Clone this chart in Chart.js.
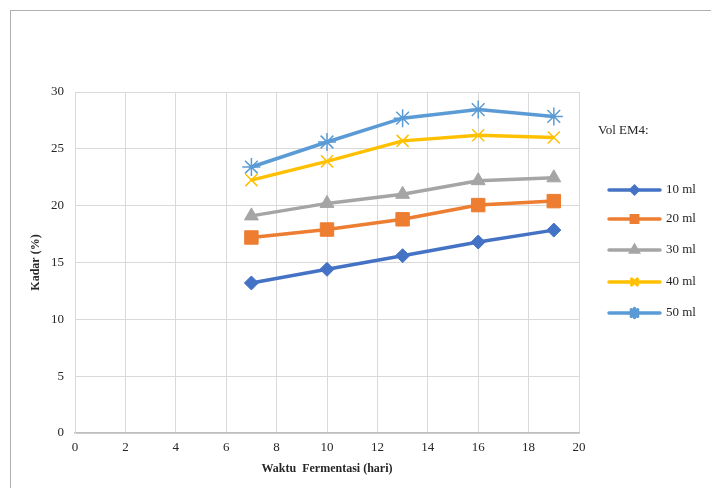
<!DOCTYPE html>
<html><head><meta charset="utf-8">
<script src="https://cdn.jsdelivr.net/npm/chart.js@4"></script>
<style>html,body{margin:0;padding:0;background:#fff}#wrap{width:711px;height:488px;position:relative}</style>
</head><body><div id="wrap"><canvas id="c" width="711" height="488"></canvas></div>
<script>
const days = [7, 10, 13, 16, 19];
const seriesNames = ['10 ml', '20 ml', '30 ml', '40 ml', '50 ml'];
const ml10 = [13.2, 14.4, 15.6, 16.8, 17.85];
const ml20 = [17.2, 17.9, 18.8, 20.05, 20.4];
const ml30 = [19.1, 20.2, 21.0, 22.2, 22.45];
const ml40 = [22.25, 23.9, 25.7, 26.2, 26.0];
const ml50 = [23.4, 25.6, 27.7, 28.45, 27.85];
const xTicks = [0, 2, 4, 6, 8, 10, 12, 14, 16, 18, 20];
const yTicks = [0, 5, 10, 15, 20, 25, 30];

const colors = ['#4472C4', '#ED7D31', '#A5A5A5', '#FFC000', '#5B9BD5'];
const styles = ['rectRot', 'rect', 'triangle', 'crossRot', 'star'];
const radii = [7, 9.5, 8, 8.5, 9];
const legendRadii = [3.5, 4.5, 4, 4, 4.5];
const allData = [ml10, ml20, ml30, ml40, ml50];
const font = 'Liberation Serif';

const datasets = allData.map((vals, i) => ({
  label: seriesNames[i],
  data: days.map((d, j) => ({x: d, y: vals[j]})),
  borderColor: colors[i],
  backgroundColor: colors[i],
  borderWidth: 3.5,
  pointStyle: styles[i],
  pointRadius: radii[i],
  pointBorderWidth: (styles[i] === 'crossRot' || styles[i] === 'star') ? 1.5 : 1,
  pointBorderColor: colors[i],
  pointBackgroundColor: colors[i],
  tension: 0
}));

const frame = {
  id: 'frame',
  beforeDraw(chart) {
    const ctx = chart.ctx;
    ctx.save();
    ctx.fillStyle = '#fff';
    ctx.fillRect(0, 0, chart.width, chart.height);
    ctx.strokeStyle = '#b0b0b0';
    ctx.lineWidth = 1;
    ctx.strokeRect(10.5, 10.5, 900, 700);
    ctx.restore();
  },
  afterDraw(chart) {
    const ctx = chart.ctx;
    ctx.save();
    ctx.font = '13px "' + font + '"';
    ctx.fillStyle = '#262626';
    ctx.textBaseline = 'middle';
    ctx.fillText('Vol EM4:', 598, 131);
    const ys = [190, 219, 250, 282, 313];
    seriesNames.forEach((n, i) => {
      const y = ys[i];
      ctx.strokeStyle = colors[i];
      ctx.lineWidth = 3.5;
      ctx.lineCap = 'round';
      ctx.beginPath(); ctx.moveTo(609, y); ctx.lineTo(660, y); ctx.stroke();
      ctx.fillStyle = colors[i];
      ctx.strokeStyle = colors[i];
      Chart.helpers.drawPoint(ctx, {pointStyle: styles[i], radius: legendRadii[i], rotation: 0,
        borderWidth: (styles[i] === 'crossRot' || styles[i] === 'star') ? 1.2 : 1}, 634.5, y);
      ctx.fillStyle = '#262626';
      ctx.font = '13px "' + font + '"';
      ctx.fillText(n, 666, y);
    });
    ctx.restore();
  }
};

new Chart(document.getElementById('c'), {
  type: 'line',
  data: {datasets},
  options: {
    responsive: false,
    animation: false,
    layout: {padding: {top: 92, right: 132, left: 0, bottom: 0}},
    plugins: {legend: {display: false}, tooltip: {enabled: false}},
    scales: {
      x: {
        type: 'linear', min: 0, max: 20,
        afterBuildTicks(s) { s.ticks = xTicks.map(v => ({value: v})); },
        afterFit(s) { s.height = 55; },
        grid: {color: '#d9d9d9', lineWidth: 1, drawTicks: false},
        border: {color: '#bfbfbf', width: 1.5},
        ticks: {padding: 7, color: '#262626', font: {family: font, size: 13}},
        title: {display: true, text: 'Waktu  Fermentasi (hari)', color: '#262626',
          font: {family: font, size: 12, weight: 'bold'}, padding: {top: 0, bottom: 12}}
      },
      y: {
        type: 'linear', min: 0, max: 30,
        afterBuildTicks(s) { s.ticks = yTicks.map(v => ({value: v})); },
        afterFit(s) { s.width = 75; },
        grid: {color: '#d9d9d9', lineWidth: 1, drawTicks: false},
        border: {color: '#d9d9d9', width: 1},
        ticks: {padding: 11, color: '#262626', font: {family: font, size: 13}},
        title: {display: true, text: 'Kadar (%)', color: '#262626',
          font: {family: font, size: 12, weight: 'bold'}, padding: {top: 29, bottom: 0}}
      }
    }
  },
  plugins: [frame]
});
</script></body></html>
